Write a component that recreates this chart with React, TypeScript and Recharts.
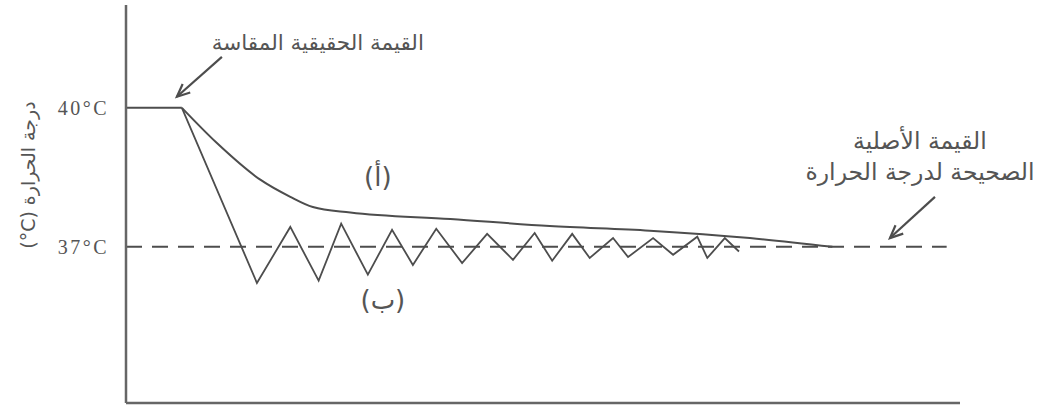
import React from 'react';
import { LineChart, Line, XAxis, YAxis, ReferenceLine, ReferenceDot } from 'recharts';

// time in arbitrary units (0..100), temperature in °C
const plateauTime = [0, 6.7];
const plateauTemp = [40, 40];

// (أ) slow return to the set point
const slowTime = [6.7, 10.9, 16.1, 19.7, 22.4, 26.9, 38.9, 50.8, 62.8, 74.8, 84.7];
const slowTemp = [40, 39.24, 38.45, 38.08, 37.86, 37.74, 37.6, 37.45, 37.35, 37.19, 37.0];

// (ب) oscillating return
const fastTime = [6.7, 15.7, 19.7, 23.1, 25.8, 29.0, 31.9, 34.4, 37.2, 40.3, 43.3, 46.4, 49.0, 51.1, 53.5, 55.6, 58.4, 60.2, 63.2, 65.6, 68.5, 69.7, 71.8, 73.5];
const fastTemp = [40, 36.22, 37.43, 36.27, 37.5, 36.4, 37.37, 36.61, 37.39, 36.65, 37.28, 36.72, 37.3, 36.7, 37.28, 36.76, 37.19, 36.78, 37.19, 36.83, 37.22, 36.76, 37.19, 36.9];

const setPointTime = [0, 98.4];
const setPointTemp = [37, 37];

const tempTicks = [37, 40];

const toRows = (t: number[], v: number[]) => t.map((x, i) => ({ t: x, temp: v[i] }));

const INK = '#4d4d4d';
const TEXT = '#555';
const AR_FONT = '"DejaVu Sans", sans-serif';

const Arrow = (p: any) => {
  const { x1, y1, x2, y2 } = p;
  const ang = Math.atan2(y2 - y1, x2 - x1);
  const len = 14;
  const spread = 0.42;
  const ax = x2 - len * Math.cos(ang - spread);
  const ay = y2 - len * Math.sin(ang - spread);
  const bx = x2 - len * Math.cos(ang + spread);
  const by = y2 - len * Math.sin(ang + spread);
  return (
    <g>
      <line x1={x1} y1={y1} x2={x2} y2={y2} stroke={INK} strokeWidth={2.2} />
      <polyline points={`${ax},${ay} ${x2},${y2} ${bx},${by}`} fill="none" stroke={INK} strokeWidth={2.2} />
    </g>
  );
};

const textAt = (lines: string[], size: number, gap: number, spacing = 0) => (p: any) => {
  const { cx, cy } = p;
  const top = cy - ((lines.length - 1) * gap) / 2;
  return (
    <g>
      {lines.map((s, i) => (
        <text
          key={i}
          x={cx}
          y={top + i * gap}
          textAnchor="middle"
          dominantBaseline="central"
          fontFamily={AR_FONT}
          fontSize={size}
          letterSpacing={spacing}
          fill={TEXT}
        >
          {s}
        </text>
      ))}
    </g>
  );
};

const AxisTitle = (p: any) => {
  const { cx, cy } = p;
  return (
    <text
      x={cx}
      y={cy}
      transform={`rotate(-90, ${cx}, ${cy})`}
      textAnchor="middle"
      dominantBaseline="central"
      fontFamily={AR_FONT}
      fontSize={19}
      fill={TEXT}
    >
      (°C) درجة الحرارة
    </text>
  );
};

export default function App() {
  return (
    <div style={{ position: 'absolute', left: 0, top: 0, width: 1044, height: 409, background: '#fff' }}>
      <LineChart width={1044} height={409} margin={{ top: 5, right: 84, bottom: 0, left: 66 }}>
        <XAxis
          type="number"
          dataKey="t"
          domain={[0, 100]}
          allowDataOverflow
          height={6}
          tick={false}
          tickLine={false}
          axisLine={{ stroke: '#666', strokeWidth: 2.5 }}
        />
        <YAxis
          type="number"
          domain={[33.63, 42.22]}
          allowDataOverflow
          width={60}
          ticks={tempTicks}
          tickSize={0}
          tickLine={false}
          tickMargin={17}
          tickFormatter={(v: number) => `${v}°C`}
          tick={{ fill: TEXT, fontSize: 20, fontFamily: '"Liberation Serif", serif', letterSpacing: 2.5 }}
          axisLine={{ stroke: '#666', strokeWidth: 2.5 }}
        />
        <Line
          data={toRows(setPointTime, setPointTemp)}
          dataKey="temp"
          type="linear"
          stroke={INK}
          strokeWidth={2}
          strokeDasharray="16 10"
          dot={false}
          isAnimationActive={false}
        />
        <Line
          data={toRows(plateauTime, plateauTemp)}
          dataKey="temp"
          type="linear"
          stroke={INK}
          strokeWidth={2}
          dot={false}
          isAnimationActive={false}
        />
        <Line
          data={toRows(slowTime, slowTemp)}
          dataKey="temp"
          type="monotone"
          stroke={INK}
          strokeWidth={2}
          dot={false}
          isAnimationActive={false}
        />
        <Line
          data={toRows(fastTime, fastTemp)}
          dataKey="temp"
          type="linear"
          stroke={INK}
          strokeWidth={1.8}
          dot={false}
          isAnimationActive={false}
        />
        <ReferenceLine segment={[{ x: 11.5, y: 41.1 }, { x: 6.1, y: 40.24 }]} shape={Arrow} />
        <ReferenceLine segment={[{ x: 97.0, y: 38.08 }, { x: 91.6, y: 37.19 }]} shape={Arrow} />
        <ReferenceDot x={23.0} y={41.42} r={0} shape={textAt(['القيمة الحقيقية المقاسة'], 21.5, 0)} />
        <ReferenceDot x={95.2} y={38.96} r={0} shape={textAt(['القيمة الأصلية', 'الصحيحة لدرجة الحرارة'], 23.5, 31)} />
        <ReferenceDot x={30.2} y={38.51} r={0} shape={textAt(['(أ)'], 26, 0, 4)} />
        <ReferenceDot x={30.8} y={35.86} r={0} shape={textAt(['(ب)'], 26, 0, 2)} />
        <ReferenceDot x={-11.75} y={38.55} r={0} ifOverflow="visible" shape={AxisTitle} />
      </LineChart>
    </div>
  );
}
